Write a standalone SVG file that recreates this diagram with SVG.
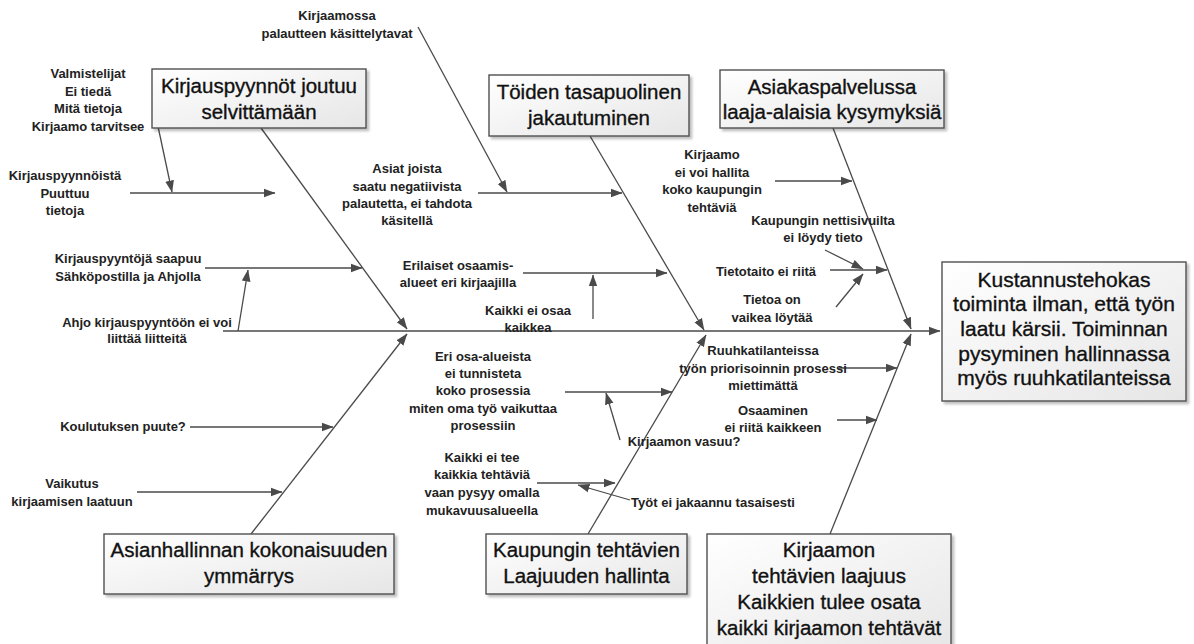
<svg xmlns="http://www.w3.org/2000/svg" width="1194" height="644" viewBox="0 0 1194 644">
  <defs>
    <style>
      .box { fill: url(#boxFill); stroke: #505050; stroke-width: 1.4; filter: url(#shadow); }
      .head { font-family: "Liberation Sans", Arial, sans-serif; font-size: 20.5px; fill: #111; stroke: #111; stroke-width: 0.35; text-anchor: middle; }
      .t { font-family: "Liberation Sans", Arial, sans-serif; font-size: 13px; font-weight: bold; fill: #222; text-anchor: middle; }
      .ln { fill: none; stroke: #4a4a4a; stroke-width: 1.3; marker-end: url(#arrow); }
    </style>
    <linearGradient id="boxFill" x1="0" y1="0" x2="1" y2="1">
      <stop offset="0" stop-color="#ffffff"/>
      <stop offset="1" stop-color="#e6e6e6"/>
    </linearGradient>
    <filter id="shadow" x="-10%" y="-10%" width="130%" height="130%">
      <feDropShadow dx="2.5" dy="2.5" stdDeviation="1.2" flood-color="#000" flood-opacity="0.25"/>
    </filter>
    <marker id="arrow" markerUnits="userSpaceOnUse" markerWidth="12" markerHeight="10" viewBox="0 0 11 8" refX="10.5" refY="4" orient="auto">
      <path d="M0,0 L11,4 L0,8 z" fill="#4a4a4a"/>
    </marker>
  </defs>

  <rect width="1194" height="644" fill="#ffffff"/>

  <!-- connectors: spine, main bones and cause arrows -->
  <g id="connectors">
    <line class="ln" x1="223" y1="331" x2="940" y2="331"/>
    <line class="ln" x1="261" y1="128" x2="407" y2="329"/>
    <line class="ln" x1="590" y1="136" x2="704" y2="330"/>
    <line class="ln" x1="833" y1="128" x2="911" y2="329"/>
    <line class="ln" x1="251" y1="534" x2="407" y2="334"/>
    <line class="ln" x1="588" y1="534" x2="706" y2="335"/>
    <line class="ln" x1="830" y1="534" x2="911" y2="334"/>

    <line class="ln" x1="130" y1="193" x2="275" y2="193"/>
    <line class="ln" x1="153" y1="103" x2="172" y2="192"/>
    <line class="ln" x1="418" y1="27" x2="507" y2="192"/>
    <line class="ln" x1="478" y1="193" x2="622" y2="193"/>
    <line class="ln" x1="775" y1="181" x2="852" y2="181"/>
    <line class="ln" x1="825" y1="250" x2="863" y2="269"/>
    <line class="ln" x1="830" y1="270" x2="887" y2="270"/>
    <line class="ln" x1="836" y1="307" x2="863" y2="274"/>
    <line class="ln" x1="205" y1="268" x2="362" y2="268"/>
    <line class="ln" x1="238" y1="331" x2="248" y2="270"/>
    <line class="ln" x1="190" y1="427" x2="333" y2="427"/>
    <line class="ln" x1="137" y1="492" x2="282" y2="492"/>
    <line class="ln" x1="523" y1="273" x2="667" y2="273"/>
    <line class="ln" x1="593" y1="319" x2="593" y2="275"/>
    <line class="ln" x1="565" y1="392" x2="672" y2="392"/>
    <line class="ln" x1="620" y1="440" x2="606" y2="393"/>
    <line class="ln" x1="537" y1="483" x2="615" y2="483"/>
    <line class="ln" x1="630" y1="500" x2="578" y2="485"/>
    <line class="ln" x1="839" y1="368" x2="897" y2="368"/>
    <line class="ln" x1="837" y1="420" x2="877" y2="420"/>
  </g>

  <!-- category boxes -->
  <g id="cat-kirjauspyynnot">
    <rect class="box" x="152" y="69" width="214" height="59"/>
    <text class="head" x="259" y="93">Kirjauspyynnöt joutuu</text>
    <text class="head" x="259" y="119">selvittämään</text>
  </g>
  <g id="cat-toiden">
    <rect class="box" x="489" y="75" width="200" height="61"/>
    <text class="head" x="589" y="99">Töiden tasapuolinen</text>
    <text class="head" x="589" y="125">jakautuminen</text>
  </g>
  <g id="cat-asiakaspalvelu">
    <rect class="box" x="720" y="70" width="224" height="58"/>
    <text class="head" x="832" y="94">Asiakaspalvelussa</text>
    <text class="head" x="832" y="119">laaja-alaisia kysymyksiä</text>
  </g>
  <g id="cat-asianhallinta">
    <rect class="box" x="104" y="534" width="290" height="60"/>
    <text class="head" x="249" y="557">Asianhallinnan kokonaisuuden</text>
    <text class="head" x="249" y="583">ymmärrys</text>
  </g>
  <g id="cat-kaupunki">
    <rect class="box" x="486" y="534" width="201" height="60"/>
    <text class="head" x="586.5" y="557">Kaupungin tehtävien</text>
    <text class="head" x="586.5" y="583">Laajuuden hallinta</text>
  </g>
  <g id="cat-kirjaamo">
    <rect class="box" x="707" y="534" width="244" height="118"/>
    <text class="head" x="829" y="557">Kirjaamon</text>
    <text class="head" x="829" y="583">tehtävien laajuus</text>
    <text class="head" x="829" y="609">Kaikkien tulee osata</text>
    <text class="head" x="829" y="635">kaikki kirjaamon tehtävät</text>
  </g>

  <!-- effect box -->
  <g id="effect">
    <rect class="box" x="942" y="262" width="244" height="139"/>
    <text class="head" x="1064" y="287" style="font-size:21px">Kustannustehokas</text>
    <text class="head" x="1064" y="311" style="font-size:21px">toiminta ilman, että työn</text>
    <text class="head" x="1064" y="336" style="font-size:21px">laatu kärsii. Toiminnan</text>
    <text class="head" x="1064" y="361" style="font-size:21px">pysyminen hallinnassa</text>
    <text class="head" x="1064" y="385" style="font-size:21px">myös ruuhkatilanteissa</text>
  </g>

  <!-- cause labels -->
  <g id="c-palaute">
    <text class="t" x="337" y="20">Kirjaamossa</text>
    <text class="t" x="337" y="38">palautteen käsittelytavat</text>
  </g>
  <g id="c-valmistelijat">
    <text class="t" x="88" y="78">Valmistelijat</text>
    <text class="t" x="88" y="95.5">Ei tiedä</text>
    <text class="t" x="88" y="113">Mitä tietoja</text>
    <text class="t" x="88" y="130.5">Kirjaamo tarvitsee</text>
  </g>
  <g id="c-puuttuu">
    <text class="t" x="65" y="180">Kirjauspyynnöistä</text>
    <text class="t" x="65" y="197.5">Puuttuu</text>
    <text class="t" x="65" y="215">tietoja</text>
  </g>
  <g id="c-asiat">
    <text class="t" x="407" y="173">Asiat joista</text>
    <text class="t" x="407" y="190.5">saatu negatiivista</text>
    <text class="t" x="407" y="208">palautetta, ei tahdota</text>
    <text class="t" x="407" y="225">käsitellä</text>
  </g>
  <g id="c-hallita">
    <text class="t" x="712" y="159">Kirjaamo</text>
    <text class="t" x="712" y="177">ei voi hallita</text>
    <text class="t" x="712" y="194">koko kaupungin</text>
    <text class="t" x="712" y="212">tehtäviä</text>
  </g>
  <g id="c-nettisivut">
    <text class="t" x="823" y="225">Kaupungin nettisivuilta</text>
    <text class="t" x="823" y="242">ei löydy tieto</text>
  </g>
  <g id="c-tietotaito">
    <text class="t" x="766" y="276">Tietotaito ei riitä</text>
  </g>
  <g id="c-vaikea">
    <text class="t" x="772" y="304">Tietoa on</text>
    <text class="t" x="772" y="322">vaikea löytää</text>
  </g>
  <g id="c-saapuu">
    <text class="t" x="128" y="263">Kirjauspyyntöjä saapuu</text>
    <text class="t" x="128" y="281">Sähköpostilla ja Ahjolla</text>
  </g>
  <g id="c-ahjo">
    <text class="t" x="147" y="327">Ahjo kirjauspyyntöön ei voi</text>
    <text class="t" x="147" y="343">liittää liitteitä</text>
  </g>
  <g id="c-osaamisalueet">
    <text class="t" x="458" y="270">Erilaiset osaamis-</text>
    <text class="t" x="458" y="287">alueet eri kirjaajilla</text>
  </g>
  <g id="c-kaikkea">
    <text class="t" x="528" y="315">Kaikki ei osaa</text>
    <text class="t" x="528" y="332">kaikkea</text>
  </g>
  <g id="c-prosessi">
    <text class="t" x="483" y="361">Eri osa-alueista</text>
    <text class="t" x="483" y="378">ei tunnisteta</text>
    <text class="t" x="483" y="395">koko prosessia</text>
    <text class="t" x="483" y="413">miten oma työ vaikuttaa</text>
    <text class="t" x="483" y="430">prosessiin</text>
  </g>
  <g id="c-vasuu">
    <text class="t" x="684" y="446">Kirjaamon vasuu?</text>
  </g>
  <g id="c-koulutus">
    <text class="t" x="123" y="431">Koulutuksen puute?</text>
  </g>
  <g id="c-laatu">
    <text class="t" x="72" y="488">Vaikutus</text>
    <text class="t" x="72" y="506">kirjaamisen laatuun</text>
  </g>
  <g id="c-mukavuus">
    <text class="t" x="482" y="462">Kaikki ei tee</text>
    <text class="t" x="482" y="479">kaikkia tehtäviä</text>
    <text class="t" x="482" y="497">vaan pysyy omalla</text>
    <text class="t" x="482" y="515">mukavuusalueella</text>
  </g>
  <g id="c-jakaantuminen">
    <text class="t" x="713" y="507">Työt ei jakaannu tasaisesti</text>
  </g>
  <g id="c-ruuhka">
    <text class="t" x="763" y="355">Ruuhkatilanteissa</text>
    <text class="t" x="763" y="373">työn priorisoinnin prosessi</text>
    <text class="t" x="763" y="390">miettimättä</text>
  </g>
  <g id="c-osaaminen">
    <text class="t" x="773" y="415">Osaaminen</text>
    <text class="t" x="773" y="432">ei riitä kaikkeen</text>
  </g>
</svg>
